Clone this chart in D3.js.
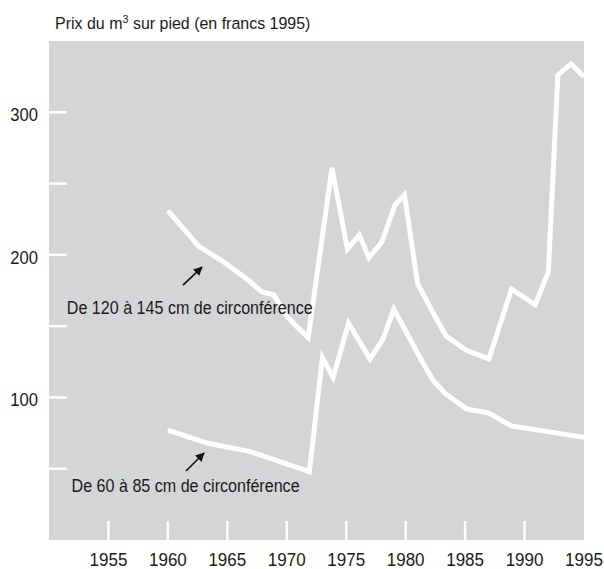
<!DOCTYPE html>
<html>
  <head>
    <meta charset="utf-8">
    <script src="https://d3js.org/d3.v7.min.js"></script>
    <title>Prix du m3 sur pied</title>
    <style>
      body { margin: 0; background: #fff; }
      text { font-family: "Liberation Sans", Arial, Helvetica, sans-serif; fill: #1a1a1a; }
    </style>
  </head>
  <body>
    <svg width="604" height="569"></svg>
    <script>
      // 120-145 cm circumference
      const bigYears = [1960, 1962.6, 1964.7, 1966.8, 1967.9, 1968.9, 1970, 1970.8, 1971.8, 1973.8,
        1975.1, 1976.1, 1976.9, 1978, 1979.1, 1979.9, 1981, 1982.2, 1983.4, 1985.1,
        1987, 1988.9, 1990.9, 1992, 1992.8, 1993.9, 1995];
      const bigPrices = [231, 206, 195, 182, 174, 172, 157, 150, 142, 261,
        204, 214, 198, 209, 235, 242, 180, 161, 143, 133,
        127, 176, 165, 188, 326, 334, 325];

      // 60-85 cm circumference
      const smallYears = [1960, 1963.3, 1966.9, 1971.9, 1973, 1973.9, 1975.2, 1977, 1978.1, 1979,
        1980.1, 1981.2, 1982.3, 1983.3, 1985.1, 1987, 1988.9, 1995];
      const smallPrices = [77, 68, 62, 48, 128, 114, 152, 127, 141, 162,
        145, 128, 112, 103, 92, 89, 80, 72];

      const xTicks = [1955, 1960, 1965, 1970, 1975, 1980, 1985, 1990];
      const xLabels = [1955, 1960, 1965, 1970, 1975, 1980, 1985, 1990, 1995];
      const yTicks = [50, 100, 150, 200, 250, 300];
      const yLabels = [100, 200, 300];

      const seriesLabels = ['De 120 à 145 cm de circonférence', 'De 60 à 85 cm de circonférence'];
      // label anchor [year, value] and arrow [from, to] in data units
      const labelAt = [[1951.5, 158.5], [1951.9, 33.7]];
      const arrowAt = [[[1961.27, 178.8], [1962.87, 191.4]], [[1961.52, 48.4], [1963.04, 61]]];

      const svg = d3.select('svg');

      const x = d3.scaleLinear().domain([1950, 1995]).range([49, 584]);
      const y = d3.scaleLinear().domain([0, 350]).range([540, 41]);

      // the original type is a slightly condensed grotesque
      const squeeze = (px, py, k) => `translate(${px},${py}) scale(${k},1)`;

      svg.append('defs').append('marker')
          .attr('id', 'head')
          .attr('viewBox', '0 0 10 10')
          .attr('refX', 9).attr('refY', 5)
          .attr('markerWidth', 9).attr('markerHeight', 9)
          .attr('markerUnits', 'userSpaceOnUse')
          .attr('orient', 'auto')
        .append('path')
          .attr('d', 'M0,0L10,5L0,10z')
          .attr('fill', '#111');

      // gray panel
      svg.append('rect')
          .attr('x', x(1950))
          .attr('y', y(350))
          .attr('width', x(1995) - x(1950))
          .attr('height', y(0) - y(350))
          .attr('fill', '#d4d5d7');

      // ticks (white, inside the panel)
      svg.append('g').selectAll('line').data(yTicks)
        .enter().append('line')
          .attr('x1', x(1950)).attr('x2', x(1950) + 18)
          .attr('y1', d => y(d)).attr('y2', d => y(d))
          .attr('stroke', '#fff').attr('stroke-width', 2.5);

      svg.append('g').selectAll('line').data(xTicks)
        .enter().append('line')
          .attr('x1', d => x(d)).attr('x2', d => x(d))
          .attr('y1', y(0)).attr('y2', y(0) - 19)
          .attr('stroke', '#fff').attr('stroke-width', 2.5);

      svg.append('g').selectAll('text').data(yLabels)
        .enter().append('text')
          .attr('transform', d => squeeze(38, y(d) + 9, 0.9))
          .attr('text-anchor', 'end')
          .attr('font-size', 18.5)
          .text(d => d);

      svg.append('g').selectAll('text').data(xLabels)
        .enter().append('text')
          .attr('transform', d => squeeze(x(d), 566, 0.92))
          .attr('text-anchor', 'middle')
          .attr('font-size', 18.5)
          .text(d => d);

      // title
      const title = svg.append('text')
          .attr('transform', squeeze(55, 29, 0.94))
          .attr('font-size', 17);
      title.append('tspan').text('Prix du m');
      title.append('tspan').attr('dy', -6.5).attr('font-size', 11.5).text('3');
      title.append('tspan').attr('dy', 6.5).text(' sur pied (en francs 1995)');

      // lines
      const line = d3.line()
        .x(d => x(d[0]))
        .y(d => y(d[1]));

      const series = [d3.zip(bigYears, bigPrices), d3.zip(smallYears, smallPrices)];

      svg.append('g').selectAll('path').data(series)
        .enter().append('path')
          .attr('d', line)
          .attr('fill', 'none')
          .attr('stroke', '#fff')
          .attr('stroke-width', 5)
          .attr('stroke-linejoin', 'miter');

      // annotations
      svg.append('g').selectAll('line').data(arrowAt)
        .enter().append('line')
          .attr('x1', d => x(d[0][0])).attr('y1', d => y(d[0][1]))
          .attr('x2', d => x(d[1][0])).attr('y2', d => y(d[1][1]))
          .attr('stroke', '#111')
          .attr('stroke-width', 1.6)
          .attr('marker-end', 'url(#head)');

      svg.append('g').selectAll('text').data(seriesLabels)
        .enter().append('text')
          .attr('transform', (d, i) => squeeze(x(labelAt[i][0]), y(labelAt[i][1]), 0.87))
          .attr('font-size', 18.5)
          .text(d => d);
    </script>
  </body>
</html>
